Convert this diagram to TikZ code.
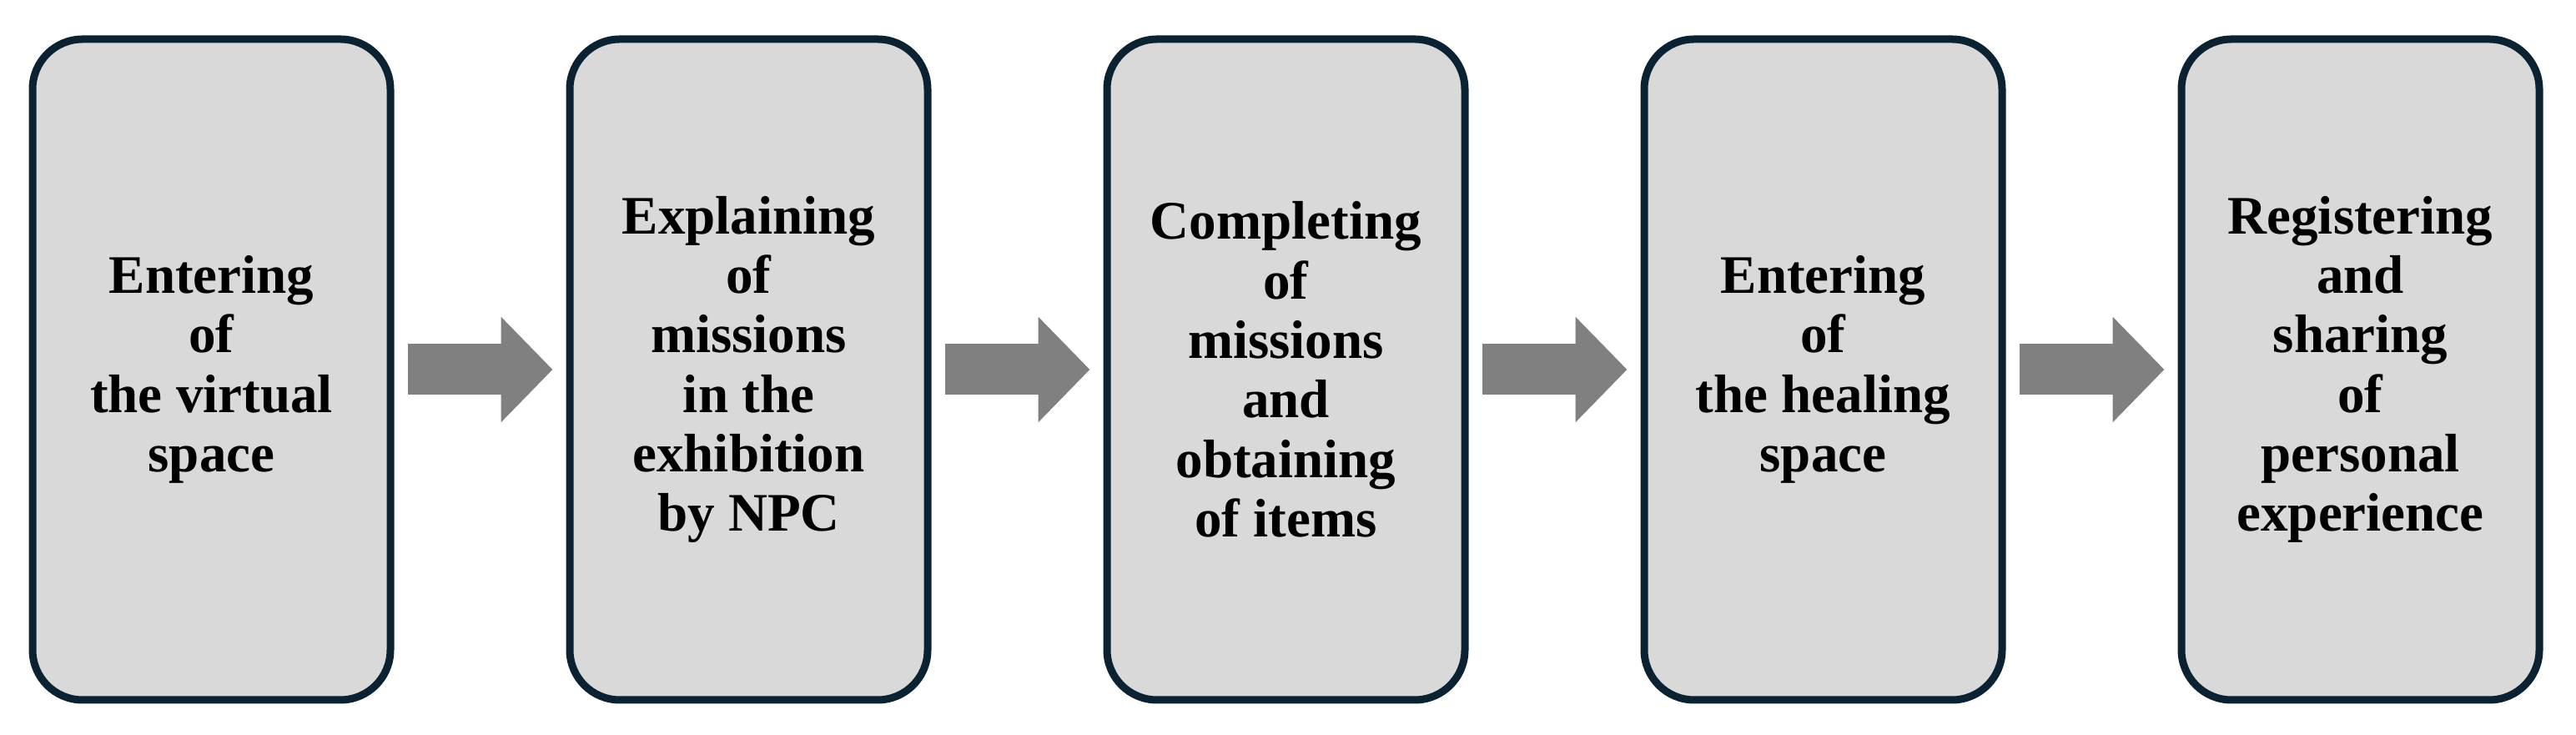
\documentclass[tikz,border=0pt]{standalone}
\usepackage{fontspec}
\setmainfont{Liberation Serif}
\usetikzlibrary{arrows.meta}
\definecolor{boxfill}{HTML}{D9D9D9}
\definecolor{boxline}{HTML}{0B2233}
\definecolor{arrowgray}{HTML}{808080}
\tikzset{
  stage/.style={draw=boxline, fill=boxfill, line width=0.09cm, rounded corners=0.6cm,
    minimum width=4.29cm, minimum height=7.92cm, align=center,
    font=\fontsize{18.5}{20.3}\selectfont\bfseries},
  flow/.style={arrowgray, line width=0.61cm, -{Triangle[width=1.23cm, length=0.62cm]}, shorten >=0.16cm, shorten <=0.16cm}
}
\begin{document}
\begin{tikzpicture}
\useasboundingbox (0,0) rectangle (30.88,8.81);
%--- process stages ---
\node[stage] (enter) at (2.535,4.38) {Entering\\of\\the virtual\\space};
\node[stage] (explain) at (8.975,4.38) {Explaining\\of\\missions\\in the\\exhibition\\by NPC};
\node[stage] (complete) at (15.415,4.38) {Completing\\of\\missions\\and\\obtaining\\of items};
\node[stage] (healing) at (21.855,4.38) {Entering\\of\\the healing\\space};
\node[stage] (share) at (28.295,4.38) {Registering\\and\\sharing\\of\\personal\\experience};
%--- arrows ---
\draw[flow] (enter) -- (explain);
\draw[flow] (explain) -- (complete);
\draw[flow] (complete) -- (healing);
\draw[flow] (healing) -- (share);
\end{tikzpicture}
\end{document}
